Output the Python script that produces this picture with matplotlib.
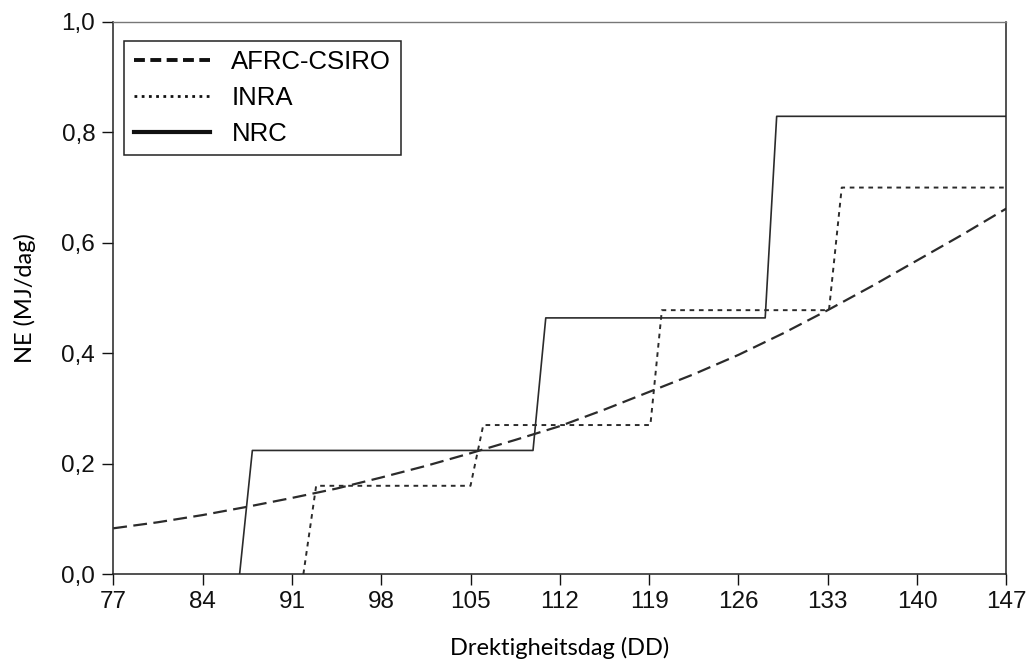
import matplotlib
matplotlib.use("Agg")
import matplotlib.pyplot as plt
from matplotlib.lines import Line2D
from matplotlib.ticker import FuncFormatter

# AFRC-CSIRO curve, points
afrc_day = [77, 80.5, 84, 87.5, 91, 94.5, 98, 101.5, 105, 108.5, 112, 115.5,
            119, 122.5, 126, 129.5, 133, 136.5, 140, 143.5, 147]
afrc_ne = [0.083, 0.094, 0.107, 0.122, 0.138, 0.155, 0.175, 0.196, 0.219, 0.243,
           0.268, 0.298, 0.330, 0.362, 0.397, 0.436, 0.478, 0.522, 0.568, 0.614, 0.662]

# INRA steps
inra_day = [91.9, 92.9, 105.0, 106.0, 119.1, 120.0, 133.1, 134.1, 147]
inra_ne = [0.0, 0.160, 0.160, 0.270, 0.270, 0.478, 0.478, 0.700, 0.700]

# NRC steps
nrc_day = [86.9, 87.9, 109.9, 110.9, 128.1, 129.0, 147]
nrc_ne = [0.0, 0.224, 0.224, 0.464, 0.464, 0.829, 0.829]

x_ticks = [77, 84, 91, 98, 105, 112, 119, 126, 133, 140, 147]
y_ticks = [0.0, 0.2, 0.4, 0.6, 0.8, 1.0]

plt.rcParams["font.family"] = ["Liberation Sans", "DejaVu Sans"]
col = "#2b2b2b"

fig = plt.figure(figsize=(10.3, 6.63), dpi=100)
ax = fig.add_axes([0.110, 0.134, 0.867, 0.833])

ax.plot(afrc_day, afrc_ne, color=col, lw=1.6, dashes=(6.2, 2.9))
ax.plot(inra_day, inra_ne, color=col, lw=1.4, dashes=(2.4, 2.4))
ax.plot(nrc_day, nrc_ne, color=col, lw=1.2)

ax.set_xlim(77, 147)
ax.set_ylim(0, 1.0)
ax.set_xticks(x_ticks)
ax.set_yticks(y_ticks)
ax.yaxis.set_major_formatter(FuncFormatter(lambda v, p: f"{v:.1f}".replace(".", ",")))

ax.tick_params(direction="out", length=8, width=1, labelsize=17.5, colors="#111111")
ax.tick_params(axis="x", pad=4)
ax.tick_params(axis="y", pad=5)

for side in ["left", "bottom", "right"]:
    ax.spines[side].set_color("#222222")
    ax.spines[side].set_linewidth(1.1)
ax.spines["top"].set_color("#777777")
ax.spines["top"].set_linewidth(1.0)

ax.set_xlabel("Drektigheitsdag (DD)", fontsize=17, family="Lato", labelpad=17)
ax.set_ylabel("NE (MJ/dag)", fontsize=17, family="Lato", labelpad=18)

# legend handles drawn thicker than the plotted lines, as in the original
handles = [
    Line2D([], [], color="#111111", lw=2.8, dashes=(2.8, 1.4)),
    Line2D([], [], color="#111111", lw=2.0, dashes=(1.0, 1.6)),
    Line2D([], [], color="#111111", lw=3.0),
]
labels = ["AFRC-CSIRO", "INRA", "NRC"]
leg = ax.legend(handles, labels, loc="upper left", bbox_to_anchor=(0.012, 0.966),
                borderaxespad=0, handlelength=2.95, handletextpad=0.85,
                borderpad=0.38, labelspacing=0.45, fancybox=False, framealpha=1,
                prop={"family": "Liberation Sans", "size": 18.5})
leg.get_frame().set_edgecolor("#222222")
leg.get_frame().set_linewidth(1.1)

fig.savefig("out.png", dpi=100)
